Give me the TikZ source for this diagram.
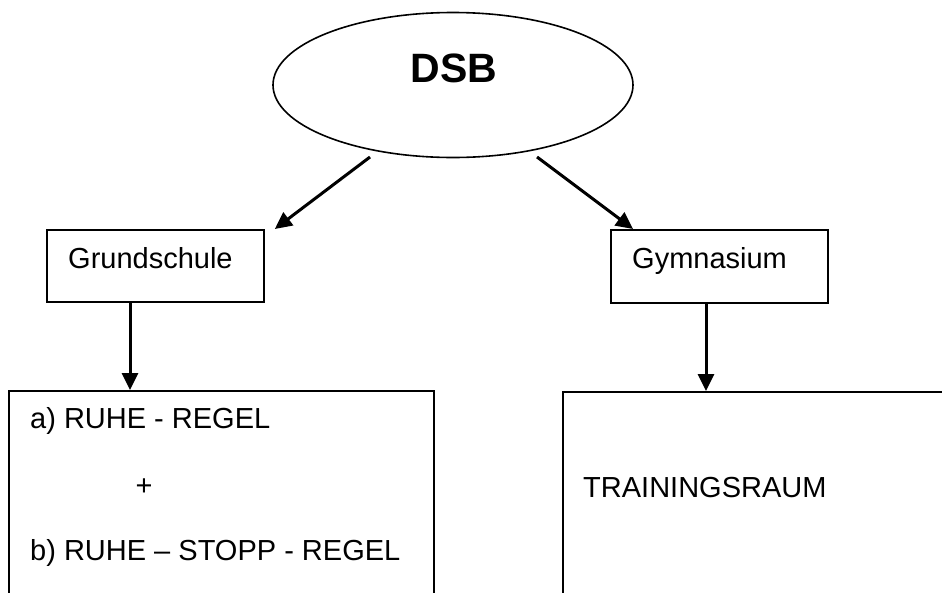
\documentclass[tikz,border=0pt]{standalone}
\usepackage{fontspec}
\setmainfont{Liberation Sans}
\usetikzlibrary{shapes.geometric,arrows.meta}
\begin{document}
\begin{tikzpicture}[x=1pt,y=-1pt,
  box/.style={draw=black,line width=1.8pt,rectangle,inner sep=0pt,anchor=north west},
  txt/.style={inner sep=0pt,anchor=base west,font=\fontsize{29}{34}\selectfont},
  arr/.style={line width=3pt,-{Triangle[length=17pt,width=16pt]}}]
\clip (0,0) rectangle (942,592);
\fill[white] (0,0) rectangle (942,592);
% nodes
\node[draw=black,line width=1.6pt,ellipse,minimum width=360pt,minimum height=145pt,inner sep=0pt] (dsb) at (453,85) {};
\node[inner sep=0pt,anchor=base,font=\fontsize{41}{46}\selectfont\bfseries] (dsbt) at (454,82) {DSB};
\node[box,minimum width=217pt,minimum height=72pt] (gs) at (46,229) {};
\node[box,minimum width=217pt,minimum height=73pt] (gy) at (610,229) {};
\node[box,minimum width=425pt,minimum height=220pt] (lb) at (8,390) {};
\node[box,minimum width=400pt,minimum height=220pt] (rb) at (562,391) {};
\node[txt] (gst) at (68,268) {Grundschule};
\node[txt] (gyt) at (632,268) {Gymnasium};
\node[txt] (la) at (30,428) {a) RUHE - REGEL};
\node[txt,anchor=base] (lp) at (144,495) {+};
\node[txt] (lbb) at (30,560) {b) RUHE – STOPP - REGEL};
\node[txt] (tr) at (583,497) {TRAININGSRAUM};
% connectors
\coordinate (ls) at (370,157);
\coordinate (rs) at (537,157);
\coordinate (lx) at (130,0);
\coordinate (rx) at (706,0);
\draw[arr] (ls) -- ([xshift=10pt]gs.north east);
\draw[arr] (rs) -- ([xshift=23pt]gy.north west);
\draw[arr] (gs.south -| lx) -- (lb.north -| lx);
\draw[arr] (gy.south -| rx) -- (rb.north -| rx);
\end{tikzpicture}
\end{document}
